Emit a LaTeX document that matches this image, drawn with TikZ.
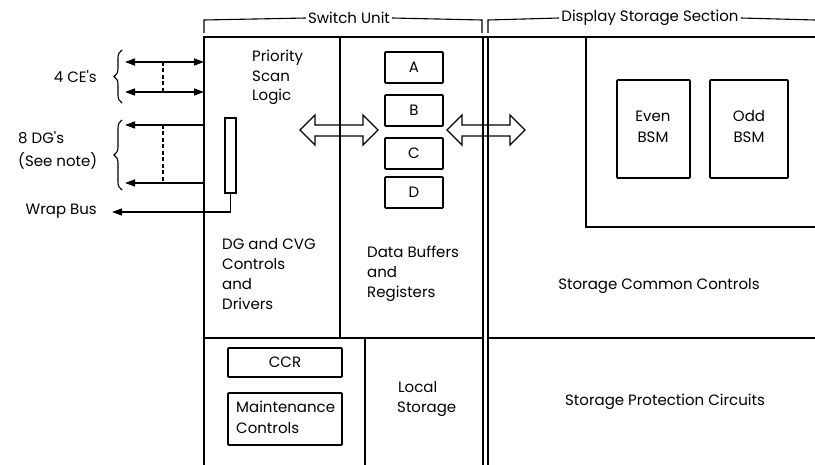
\documentclass[tikz,border=0pt]{standalone}
\usepackage{fontspec}
\setmainfont{Poppins}[Ligatures=TeXOff]
\usetikzlibrary{arrows.meta,decorations.pathreplacing}
\begin{document}
\begin{tikzpicture}[x=1pt,y=-1pt,
  frame/.style={line width=1.5pt},
  boxline/.style={draw,line width=1.7pt,rounded corners=0.8pt},
  lbl/.style={inner sep=0pt,font=\fontsize{15}{20}\selectfont},
  bus/.style={line width=1.4pt},
  tip/.style={-{Triangle[length=10pt,width=7pt]}},
  hollow/.style={draw,line width=1.4pt,line join=miter},
  dsh/.style={line width=1.1pt,dash pattern=on 4pt off 2.5pt},
  brk/.style={line width=1.1pt}]
\useasboundingbox (0,0) rectangle (815,465);

% --- section brackets
\node[lbl] (swu) at (349,18) {Switch Unit};
\node[lbl] (dss) at (650,18) {Display Storage Section};
\draw[brk] (204,33) -- (204,20) -- ([xshift=-2pt]swu.west);
\draw[brk] ([xshift=2pt]swu.east) -- (482,20) -- (482,33);
\draw[brk] (488,33) -- (488,20) -- ([xshift=-2pt]dss.west);
\draw[brk] ([xshift=2pt]dss.east) -- (815,20);

% --- outer frame and partitions
\coordinate (tl) at (204,37);
\draw[frame] (204,465) -- (tl) -- (815,37);
\draw[frame] (483,37) -- (483,465);
\draw[frame] (488,37) -- (488,465);
\draw[frame] (340,37) -- (340,338);
\draw[frame] (204,338) -- (483,338);
\draw[frame] (488,338) -- (815,338);
\draw[frame] (365,338) -- (365,465);
\draw[frame] (586,37) -- (586,227) -- (815,227);

% --- register boxes
\foreach \r/\y in {A/52,B/95,C/138,D/177}{
  \draw[boxline] (385,\y) rectangle (443,\y+31);
  \node[lbl] (reg\r) at (414,\y+15.5) {\r};
}

% --- basic storage modules
\draw[boxline] (617,80) rectangle (690,178);
\node[lbl] (even1) at (653,116) {Even};
\node[lbl] (even2) at (653,137) {BSM};
\draw[boxline] (710,80) rectangle (788,178);
\node[lbl] (odd1) at (749,116) {Odd};
\node[lbl] (odd2) at (749,137) {BSM};

% --- CCR and maintenance
\draw[boxline] (228,348) rectangle (342,377);
\node[lbl] (ccr) at (285,362.5) {CCR};
\draw[boxline] (228,393) rectangle (342,445);
\node[lbl,anchor=base west] (mnt1) at (236,413) {Maintenance};
\node[lbl,anchor=base west] (mnt2) at (236,433) {Controls};

% --- block labels
\node[lbl,anchor=base west] (ps1) at (252,62) {Priority};
\node[lbl,anchor=base west] (ps2) at (252,82) {Scan};
\node[lbl,anchor=base west] (ps3) at (252,101) {Logic};

\node[lbl,anchor=base west] (dg1) at (222,250) {DG and CVG};
\node[lbl,anchor=base west] (dg2) at (222,270) {Controls};
\node[lbl,anchor=base west] (dg3) at (222,290) {and};
\node[lbl,anchor=base west] (dg4) at (222,310) {Drivers};

\node[lbl,anchor=base west] (db1) at (367,258) {Data Buffers};
\node[lbl,anchor=base west] (db2) at (367,278) {and};
\node[lbl,anchor=base west] (db3) at (367,298) {Registers};

\node[lbl,anchor=base west] (ls1) at (398,393) {Local};
\node[lbl,anchor=base west] (ls2) at (397,413) {Storage};

\node[lbl,anchor=base] (scc) at (659,290) {Storage Common Controls};
\node[lbl,anchor=base] (spc) at (665,406) {Storage Protection Circuits};

% --- hollow double arrows
\draw[hollow] (300,130) -- (315,115) -- (315,125) -- (363,125) -- (363,115)
  -- (378,130) -- (363,145) -- (363,136) -- (315,136) -- (315,145) -- cycle;
\draw[hollow] (447,130) -- (462,115) -- (462,125) -- (510,125) -- (510,115)
  -- (525,130) -- (510,145) -- (510,136) -- (462,136) -- (462,145) -- cycle;

% --- external interfaces
\coordinate (ce1r) at (204,62);  \coordinate (ce1l) at (125,62);
\coordinate (ce2r) at (204,92);  \coordinate (ce2l) at (125,92);
\draw[bus,{Triangle[length=10pt,width=7pt]}-{Triangle[length=10pt,width=7pt]}] (ce1l) -- (ce1r);
\draw[bus,{Triangle[length=10pt,width=7pt]}-{Triangle[length=10pt,width=7pt]}] (ce2l) -- (ce2r);
\draw[dsh] (163,62) -- (163,92);

\coordinate (dg1r) at (204,125); \coordinate (dg1l) at (125,125);
\coordinate (dg2r) at (204,183); \coordinate (dg2l) at (125,183);
\draw[bus,tip] (dg1r) -- (dg1l);
\draw[bus,tip] (dg2r) -- (dg2l);
\draw[dsh] (163,125) -- (163,183);

\node[draw,line width=1.3pt,minimum width=11pt,minimum height=75pt,inner sep=0pt] (wrapreg) at (230.5,155.5) {};
\coordinate (wrapend) at (112,212);
\draw[bus,tip] (wrapreg.south) -- (230.5,212) -- (wrapend);

\draw[brk,decorate,decoration={brace,amplitude=8pt}] (122,103) -- (122,50);
\draw[brk,decorate,decoration={brace,amplitude=8pt}] (122,190) -- (122,120);

\node[lbl,anchor=base east] (ce) at (97,83) {4 CE's};
\node[lbl,anchor=base west] (dgs1) at (18,144) {8 DG's};
\node[lbl,anchor=base west] (dgs2) at (18,167) {(See note)};
\node[lbl,anchor=base east] (wrap) at (97,215) {Wrap Bus};
\end{tikzpicture}
\end{document}
